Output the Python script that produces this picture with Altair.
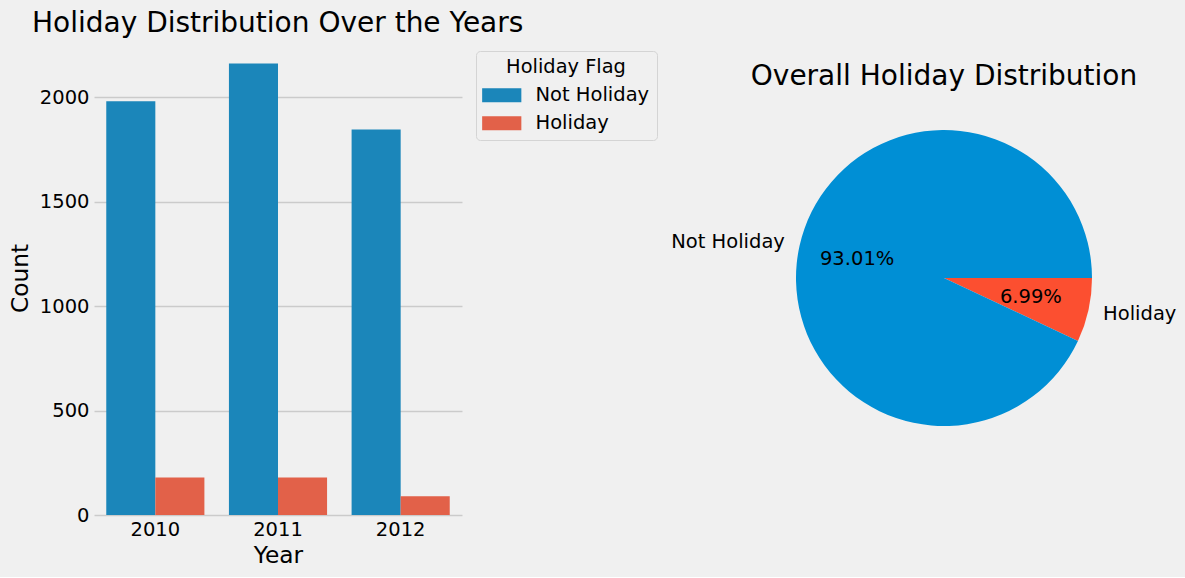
import math
import altair as alt
import pandas as pd

# ---- data ----
years = ["2010", "2011", "2012"]
not_holiday_counts = [1980, 2160, 1845]
holiday_counts = [180, 180, 90]
flags = ["Not Holiday", "Holiday"]

bar_colors = ["#1b86ba", "#e26149"]
pie_colors = ["#008fd5", "#fc4f30"]

rows = []
for y, nh, h in zip(years, not_holiday_counts, holiday_counts):
    rows.append({"Year": y, "Holiday Flag": "Not Holiday", "Count": nh})
    rows.append({"Year": y, "Holiday Flag": "Holiday", "Count": h})
bar_df = pd.DataFrame(rows)

pie_totals = {"Holiday": sum(holiday_counts), "Not Holiday": sum(not_holiday_counts)}
total = sum(pie_totals.values())
pie_df = pd.DataFrame({
    "Holiday Flag": ["Holiday", "Not Holiday"],
    "Count": [pie_totals["Holiday"], pie_totals["Not Holiday"]],
    "ord": [0, 1],
})
pie_df["pct"] = [f"{v / total * 100:.2f}%" for v in pie_df["Count"]]

FONT = "DejaVu Sans"
LBL = 19.5

# ---- bar chart ----
bar = alt.Chart(bar_df).mark_bar().encode(
    x=alt.X("Year:N", title="Year",
            scale=alt.Scale(paddingInner=0.2, paddingOuter=0.1),
            axis=alt.Axis(labelAngle=0, grid=False, ticks=False, domain=False,
                          labelFontSize=LBL, titleFontSize=23.3, labelPadding=5,
                          titlePadding=6, titleFontWeight="normal",
                          labelColor="black", titleColor="black")),
    xOffset=alt.XOffset("Holiday Flag:N", sort=flags,
                        scale=alt.Scale(paddingInner=0, paddingOuter=0)),
    y=alt.Y("Count:Q", title="Count",
            scale=alt.Scale(domain=[0, 2268], nice=False),
            axis=alt.Axis(values=[0, 500, 1000, 1500, 2000], format="d", grid=True,
                          gridColor="#cbcbcb", gridWidth=1.4, ticks=False,
                          domain=False, labelFontSize=LBL, titleFontSize=23.3,
                          labelPadding=5, titlePadding=7, titleFontWeight="normal",
                          labelColor="black", titleColor="black")),
    color=alt.Color("Holiday Flag:N",
                    scale=alt.Scale(domain=flags, range=bar_colors),
                    legend=alt.Legend(
                        title="Holiday Flag", orient="none", legendX=382, legendY=10,
                        titleFontSize=19.4, titleFontWeight="normal", titleAnchor="middle",
                        titleColor="black", labelFontSize=LBL, labelColor="black",
                        symbolType="M-2.8,-1H2.8V1H-2.8Z", symbolSize=196,
                        symbolStrokeWidth=0, symbolOpacity=1, symbolOffset=9,
                        labelOffset=24, rowPadding=7, titlePadding=8,
                        padding=7, strokeColor="#d4d4d4", fillColor="#f0f0f0",
                        cornerRadius=4, offset=0)),
).properties(
    width=368, height=474,
    title=alt.Title("Holiday Distribution Over the Years", anchor="start", frame="group",
                    dx=-62, dy=28, fontSize=28, fontWeight="normal", baseline="alphabetic",
                    offset=9, color="black", font=FONT),
)

# ---- pie chart ----
base = alt.Chart(pie_df).encode(
    theta=alt.Theta("Count:Q", stack=True,
                    scale=alt.Scale(range=[math.pi / 2, math.pi / 2 + 2 * math.pi])),
    order=alt.Order("ord:Q"),
)
arc = base.mark_arc(outerRadius=148).encode(
    color=alt.Color("Holiday Flag:N", scale=alt.Scale(domain=flags, range=pie_colors),
                    legend=None)
)
pct = base.mark_text(radius=89, fontSize=LBL, color="black", font=FONT,
                     baseline="middle").encode(text="pct:N")
lab_right = base.transform_calculate(
    lab="datum['Holiday Flag'] == 'Holiday' ? datum['Holiday Flag'] : ''"
).mark_text(radius=163, align="left", baseline="middle", fontSize=LBL,
            color="black", font=FONT).encode(text="lab:N")
lab_left = base.transform_calculate(
    lab="datum['Holiday Flag'] == 'Not Holiday' ? datum['Holiday Flag'] : ''"
).mark_text(radius=163, align="right", baseline="middle", fontSize=LBL,
            color="black", font=FONT).encode(text="lab:N")

pie = alt.layer(arc, pct, lab_right, lab_left).properties(
    width=400, height=474,
    title=alt.Title("Overall Holiday Distribution", anchor="middle", fontSize=28,
                    fontWeight="normal", baseline="alphabetic", offset=0, dy=72,
                    color="black", font=FONT),
)

chart = alt.hconcat(bar, pie, spacing=282, bounds="flush").resolve_scale(
    color="independent"
).properties(
    padding={"left": 8, "top": 10, "right": 8, "bottom": 10},
    autosize=alt.AutoSizeParams(type="pad"),
    background="#f0f0f0",
).configure(font=FONT).configure_view(stroke=None, strokeWidth=0)

chart.save("out.html", embed_options={"renderer": "svg", "actions": False})
